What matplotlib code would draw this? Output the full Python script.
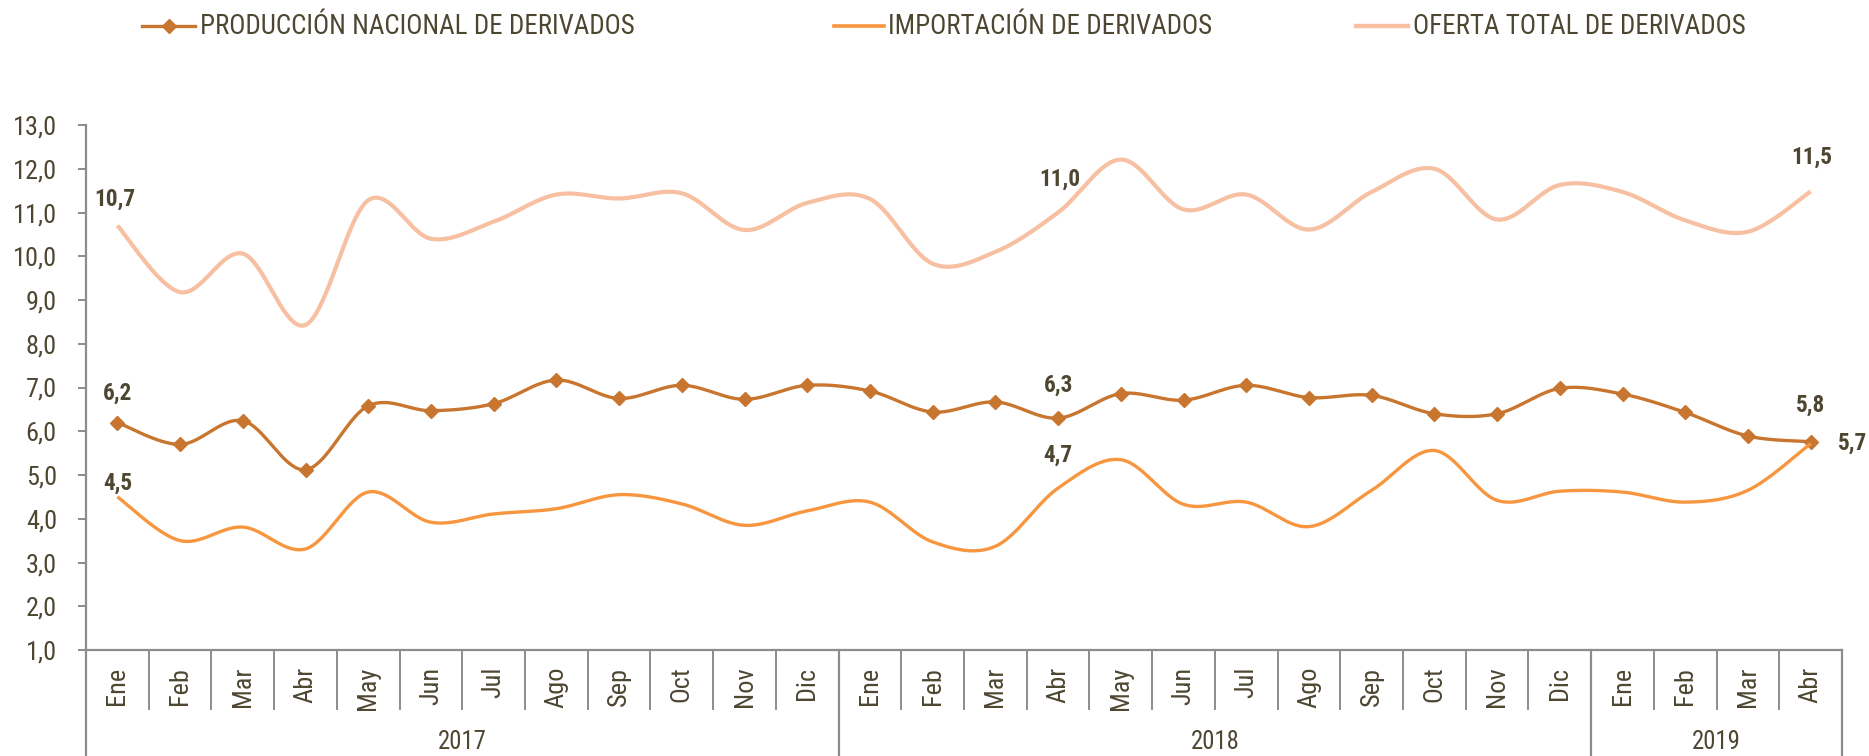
import numpy as np
import matplotlib
matplotlib.use("Agg")
import matplotlib.pyplot as plt
from matplotlib import font_manager
from matplotlib.lines import Line2D
import matplotlib.transforms as mtransforms

# ---------------- data ----------------
months = ["Ene", "Feb", "Mar", "Abr", "May", "Jun", "Jul", "Ago", "Sep", "Oct", "Nov", "Dic",
          "Ene", "Feb", "Mar", "Abr", "May", "Jun", "Jul", "Ago", "Sep", "Oct", "Nov", "Dic",
          "Ene", "Feb", "Mar", "Abr"]
years = ["2017", "2018", "2019"]
year_counts = [12, 12, 4]

produccion = [6.2, 5.7, 6.24, 5.12, 6.58, 6.47, 6.63, 7.17, 6.75, 7.05, 6.73, 7.05,
              6.92, 6.44, 6.67, 6.3, 6.86, 6.71, 7.05, 6.77, 6.82, 6.40, 6.40, 6.98,
              6.85, 6.43, 5.89, 5.76]
importacion = [4.5, 3.5, 3.81, 3.31, 4.61, 3.92, 4.11, 4.23, 4.55, 4.34, 3.85, 4.18,
               4.38, 3.47, 3.37, 4.7, 5.35, 4.33, 4.38, 3.82, 4.65, 5.56, 4.42, 4.63,
               4.61, 4.38, 4.65, 5.72]
oferta = [10.7, 9.18, 10.06, 8.43, 11.28, 10.40, 10.79, 11.41, 11.32, 11.44, 10.6, 11.22,
          11.31, 9.83, 10.1, 11.0, 12.21, 11.07, 11.41, 10.61, 11.47, 12.0, 10.84, 11.63,
          11.47, 10.82, 10.56, 11.48]

labels_series = ["PRODUCCIÓN NACIONAL DE DERIVADOS", "IMPORTACIÓN DE DERIVADOS",
                 "OFERTA TOTAL DE DERIVADOS"]
labeled_idx = [0, 15, 27]

# ---------------- style ----------------
C_PROD = "#C8762F"
C_IMP = "#F7963F"
C_OF = "#F7C0A2"
C_TXT = "#4D4631"
C_AX = "#8C8C8C"

avail = {f.name for f in font_manager.fontManager.ttflist}
def pick(cands, default):
    for c in cands:
        if c in avail:
            return c
    return default
NARROW = pick(["Liberation Sans Narrow", "Arial Narrow", "Roboto Condensed", "Archivo Narrow",
               "PT Sans Narrow", "Asap Condensed"], "Liberation Sans")

W, H = 1869, 756
fig = plt.figure(figsize=(W / 100, H / 100), dpi=100)
x0, x1, ytop, ybot = 86, 1842, 125, 650
ax = fig.add_axes([x0 / W, 1 - ybot / H, (x1 - x0) / W, (ybot - ytop) / H])

def smooth(y, n=40):
    y = np.asarray(y, float)
    x = np.arange(len(y), dtype=float)
    P = np.column_stack([x, y])
    Pe = np.vstack([P[0], P, P[-1]])
    t = np.linspace(0, 1, n)[:, None]
    out = []
    for i in range(len(P) - 1):
        p0, p3 = P[i], P[i + 1]
        c1 = p0 + (Pe[i + 2] - Pe[i]) / 6.0
        c2 = p3 - (Pe[i + 3] - Pe[i + 1]) / 6.0
        seg = ((1 - t) ** 3) * p0 + 3 * ((1 - t) ** 2) * t * c1 + 3 * (1 - t) * t ** 2 * c2 + t ** 3 * p3
        out.append(seg if i == 0 else seg[1:])
    out = np.vstack(out)
    return out[:, 0], out[:, 1]

renderer = fig.canvas.get_renderer()
def fit_size(family, weight, text, target_px, base=20.0):
    t = fig.text(0, 0, text, fontfamily=family, fontweight=weight, fontsize=base)
    cur = t.get_window_extent(renderer).width
    t.remove()
    return base * target_px / cur

FS_LEG = fit_size(NARROW, "normal", labels_series[0], 435)
FS_YT = fit_size(NARROW, "normal", "13,0", 44)
FS_LAB = fit_size(NARROW, "bold", "10,7", 41)
FS_YEAR = fit_size(NARROW, "normal", "2017", 49)
FS_MON = fit_size(NARROW, "normal", "Ene", 38)

xs = np.arange(len(months))
sx, sy = smooth(oferta)
ax.plot(sx, sy, color=C_OF, lw=3.0, solid_capstyle="butt", zorder=2)
sx, sy = smooth(produccion)
ax.plot(sx, sy, color=C_PROD, lw=2.4, solid_capstyle="butt", zorder=3)
ax.plot(xs, produccion, ls="none", marker="D", ms=7.2, color=C_PROD, zorder=4)
sx, sy = smooth(importacion)
ax.plot(sx, sy, color=C_IMP, lw=2.4, solid_capstyle="butt", zorder=5)

ax.set_xlim(-0.5, len(months) - 0.5)
ax.set_ylim(1, 13)

# data labels
def fmt(v):
    return f"{v:.1f}".replace(".", ",")

lab_kw = dict(fontfamily=NARROW, fontweight="bold", fontsize=FS_LAB, color=C_TXT,
              textcoords="offset points", ha="center", va="center")
offs_of = {0: 19, 15: 24, 27: 25}
offs_pr = {0: 21, 15: 24}
offs_im = {0: 9.5, 15: 24}
for i in labeled_idx:
    ax.annotate(fmt(oferta[i]), (i, oferta[i]), xytext=(-2 if i == 0 else 1, offs_of[i]), **lab_kw)
    if i in offs_pr:
        ax.annotate(fmt(produccion[i]), (i, produccion[i]), xytext=(0, offs_pr[i]), **lab_kw)
        ax.annotate(fmt(importacion[i]), (i, importacion[i]), xytext=(0, offs_im[i]), **lab_kw)
ax.annotate(fmt(produccion[-1]), (27, produccion[-1]), xytext=(0, 26), **lab_kw)
kw2 = dict(lab_kw); kw2["ha"] = "left"
ax.annotate(fmt(importacion[-1]), (27, importacion[-1]), xytext=(19.5, 0), **kw2)

# axes styling
for s in ["top", "right"]:
    ax.spines[s].set_visible(False)
for s in ["left", "bottom"]:
    ax.spines[s].set_color(C_AX)
    ax.spines[s].set_linewidth(1.6)
ax.set_yticks(np.arange(1, 14))
ax.set_yticklabels([fmt(v) for v in np.arange(1, 14)], fontfamily=NARROW, fontsize=FS_YT, color=C_TXT)
ax.tick_params(axis="y", length=6, width=1.4, color=C_AX, pad=15)
ax.set_xticks(xs)
ax.set_xticklabels(months, rotation=90, fontfamily=NARROW, fontsize=FS_MON, color=C_TXT)
ax.tick_params(axis="x", length=0, pad=12)

# category separators
trans = mtransforms.blended_transform_factory(ax.transData, ax.transAxes)
ph = ybot - ytop
y_month = -(709 - ybot) / ph
y_bot = -(H - ybot) / ph
year_bounds = np.cumsum([0] + year_counts)
for b in range(len(months) + 1):
    xb = b - 0.5
    if b in year_bounds:
        ax.plot([xb, xb], [0, y_bot], transform=trans, color=C_AX, lw=1.6, clip_on=False)
    else:
        ax.plot([xb, xb], [0, y_month], transform=trans, color=C_AX, lw=1.4, clip_on=False)
for k, yr in enumerate(years):
    xc = (year_bounds[k] + year_bounds[k + 1] - 1) / 2
    ax.text(xc, -(742 - ybot) / ph, yr, transform=trans, ha="center", va="center",
            fontfamily=NARROW, fontsize=FS_YEAR, color=C_TXT)

# legend (manual placement)
ly = 1 - 26 / H
leg = [(142, 195, 200, C_PROD, 2.4, True), (834, 884, 888, C_IMP, 2.6, False),
       (1356, 1408, 1413, C_OF, 3.2, False)]
for (a, b, tx, c, lw, mk), name in zip(leg, labels_series):
    fig.add_artist(Line2D([a / W, b / W], [ly, ly], transform=fig.transFigure, color=c, lw=lw))
    if mk:
        fig.add_artist(Line2D([(a + b) / 2 / W], [ly], transform=fig.transFigure, color=c,
                              marker="D", ms=7.2, ls="none"))
    fig.text(tx / W, ly, name, ha="left", va="center", fontfamily=NARROW, fontsize=FS_LEG, color=C_TXT)

fig.savefig("out.png", dpi=100)
